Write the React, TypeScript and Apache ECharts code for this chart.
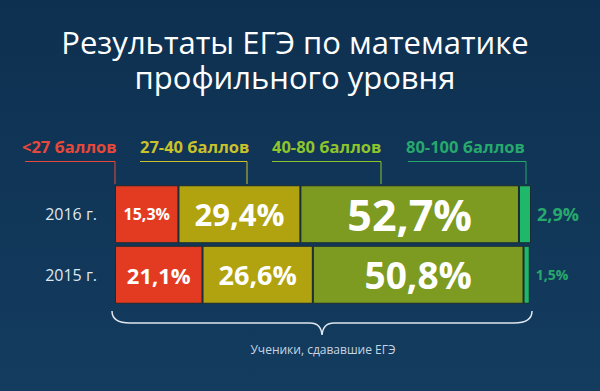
import React, { useEffect, useRef } from "react";
import * as echarts from "echarts";

// ---- data ----
const years = ["2016 г.", "2015 г."];
const bandNames = ["<27 баллов", "27-40 баллов", "40-80 баллов", "80-100 баллов"];
const below27 = [15.3, 21.1];
const from27to40 = [29.4, 26.6];
const from40to80 = [52.7, 50.8];
const from80to100 = [2.9, 1.5];
const titleLines = ["Результаты ЕГЭ по математике", "профильного уровня"];
const braceCaption = "Ученики, сдававшие ЕГЭ";

// ---- styles ----
const barColors = ["#e33b21", "#b0a30f", "#7d9a21", "#1fb86a"];
const headColors = ["#e8483a", "#c9c22a", "#8ec52d", "#27a96d"];
const labelSizes = [
  [16, 22],
  [31, 27],
  [43, 37],
  [18, 14],
];
const FONT = "'Open Sans', 'Noto Sans', sans-serif";

const fmt = (v: number) => `${v.toFixed(1).replace(".", ",")}%`;

const BRACE =
  "M0,0 Q0,12 18,12 L198,12 Q209,12 210,24 Q211,12 222,12 L402,12 Q420,12 420,0";

let registered = false;

export default function App() {
  const ref = useRef<HTMLDivElement>(null);
  useEffect(() => {
    document.body.style.margin = "0";
    if (!registered) {
      echarts.graphic.registerShape("brace", echarts.graphic.extendPath(BRACE, {}) as any);
      registered = true;
    }
    const chart = echarts.init(ref.current!, undefined, { renderer: "svg" });
    const seriesData = [below27, from27to40, from40to80, from80to100];

    const series = seriesData.map((arr, si) => ({
      type: "bar",
      name: bandNames[si],
      stack: "total",
      barWidth: 58,
      itemStyle: { color: barColors[si], borderColor: "#1c2b33", borderWidth: 1 },
      label:
        si < 3
          ? {
              show: true,
              position: "inside",
              color: "#ffffff",
              fontWeight: "bold",
              fontFamily: FONT,
              formatter: (p: any) => fmt(p.value),
            }
          : {
              show: true,
              position: "right",
              distance: 6,
              color: headColors[3],
              fontWeight: "bold",
              fontFamily: FONT,
              formatter: (p: any) => fmt(p.value),
            },
      data: arr.map((v, i) => ({ value: v, label: { fontSize: labelSizes[si][i] } })),
    }));

    // header labels with connector lines
    const heads = [
      { x: 22, lineFrom: 25, lineTo: 115 },
      { x: 140, lineFrom: 140, lineTo: 247 },
      { x: 272, lineFrom: 272, lineTo: 381 },
      { x: 406, lineFrom: 408, lineTo: 526 },
    ];
    const headGraphics: any[] = [];
    heads.forEach((h, i) => {
      headGraphics.push({
        type: "text",
        x: h.x,
        y: 138,
        style: {
          text: bandNames[i],
          fill: headColors[i],
          fontSize: 16.5,
          fontWeight: "bold",
          fontFamily: FONT,
        },
      });
      headGraphics.push({
        type: "polyline",
        shape: {
          points: [
            [h.lineFrom, 161.5],
            [h.lineTo, 161.5],
            [h.lineTo, 184],
          ],
        },
        style: { stroke: headColors[i], lineWidth: 1, fill: "none" },
      });
    });

    chart.setOption({
      animation: false,
      backgroundColor: {
        type: "linear",
        x: 0,
        y: 0,
        x2: 0,
        y2: 1,
        colorStops: [
          { offset: 0, color: "#0e3050" },
          { offset: 1, color: "#133c5f" },
        ],
      },
      grid: { left: 115, right: 69, top: 184, bottom: 86 },
      xAxis: { type: "value", min: 0, max: 100.3, show: false },
      yAxis: {
        type: "category",
        data: years,
        inverse: true,
        axisLine: { show: false },
        axisTick: { show: false },
        axisLabel: { color: "#dfe7ef", fontSize: 16, margin: 18, fontFamily: FONT },
      },
      series,
      graphic: [
        {
          type: "text",
          x: 295,
          y: 26,
          style: {
            text: titleLines[0],
            textAlign: "center",
            fill: "#ffffff",
            fontSize: 31,
            lineHeight: 31,
            fontFamily: FONT,
          },
        },
        {
          type: "text",
          x: 295,
          y: 61,
          style: {
            text: titleLines[1],
            textAlign: "center",
            fill: "#ffffff",
            fontSize: 31,
            lineHeight: 31,
            fontFamily: FONT,
          },
        },
        ...headGraphics,
        {
          type: "brace",
          x: 112,
          y: 311,
          style: { stroke: "#dfe6ee", lineWidth: 1.5, fill: "none" },
        },
        {
          type: "text",
          x: 323,
          y: 343,
          style: {
            text: braceCaption,
            textAlign: "center",
            fill: "#c9d5e1",
            fontSize: 12,
            fontFamily: FONT,
          },
        },
      ],
    });
    return () => chart.dispose();
  }, []);
  return <div ref={ref} style={{ width: 600, height: 391 }} />;
}
